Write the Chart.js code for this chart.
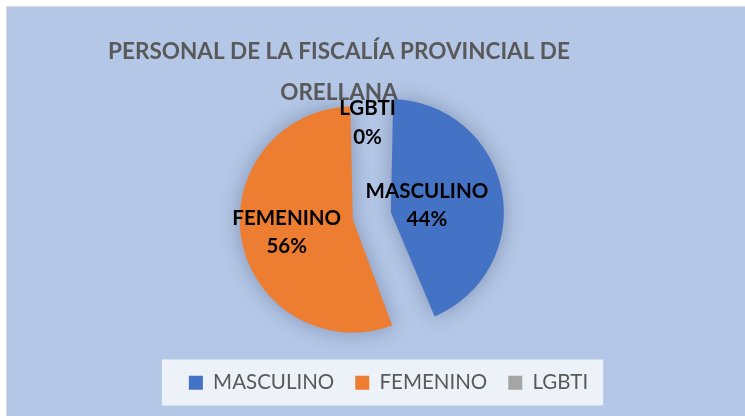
<!DOCTYPE html>
<html>
<head>
<meta charset="utf-8">
<script src="https://cdn.jsdelivr.net/npm/chart.js@4.4.1/dist/chart.umd.min.js"></script>
<style>
  html, body { margin: 0; padding: 0; background: #fff; overflow: hidden; }
  #wrap {
    position: absolute; left: 6px; top: 6px;
    width: 738px; height: 409px;
    background: #b4c7e7;
    border-top: 1px solid #d9d9d9;
    border-left: 1px solid #d9d9d9;
  }
  canvas { display: block; }
</style>
</head>
<body>
<div id="wrap"><canvas id="chart"></canvas></div>
<script>
const titleLines = ['PERSONAL DE LA FISCALÍA PROVINCIAL DE', 'ORELLANA']
const categories = ['MASCULINO', 'FEMENINO', 'LGBTI']
const values = [44, 56, 0]
const colors = ['#4472C4', '#ED7D31', '#A5A5A5']

const total = values.reduce((a, b) => a + b, 0)

// title drawn by hand so it can sit left of the pie centre like the original
const titleText = {
    id: 'titleText',
    beforeDatasetsDraw(chart, args, opts) {
        const c = chart.ctx
        c.save()
        c.font = 'bold 22.5px Lato'
        c.fillStyle = '#595959'
        c.textAlign = 'center'
        c.textBaseline = 'alphabetic'
        titleLines.forEach((t, i) => c.fillText(t, opts.x, opts.y + i * opts.lineGap))
        c.restore()
    }
}

// white panel behind the legend, legend nudged right
const legendPanel = {
    id: 'legendPanel',
    afterLayout(chart, args, opts) {
        const lg = chart.legend
        lg.left += opts.shift
        lg.right += opts.shift
    },
    beforeDraw(chart, args, opts) {
        const lg = chart.legend
        const pad = lg.options.labels.padding
        const contentW = lg.lineWidths[0] - pad
        const x0 = (lg.left + lg.right - contentW) / 2
        const cy = lg.top + pad + 10
        const c = chart.ctx
        c.save()
        c.fillStyle = '#edf1f8'
        c.fillRect(x0 - 27, cy - 23, contentW + 42, 46)
        c.restore()
    }
}

const pieShadow = {
    id: 'pieShadow',
    beforeDatasetsDraw(chart) {
        const c = chart.ctx
        c.save()
        c.shadowColor = 'rgba(40,50,80,0.35)'
        c.shadowBlur = 20
    },
    afterDatasetsDraw(chart) {
        chart.ctx.restore()
    }
}

const sliceLabels = {
    id: 'sliceLabels',
    afterDatasetsDraw(chart, args, opts) {
        const c = chart.ctx
        const meta = chart.getDatasetMeta(0)
        c.save()
        c.font = 'bold 20.5px Lato'
        c.fillStyle = '#000'
        c.textAlign = 'center'
        c.textBaseline = 'middle'
        meta.data.forEach((arc, i) => {
            const p = arc.getProps(['x', 'y', 'startAngle', 'endAngle', 'outerRadius'])
            const mid = (p.startAngle + p.endAngle) / 2
            const d = p.outerRadius * opts.dist[i]
            const x = p.x + Math.cos(mid) * d
            const y = p.y + Math.sin(mid) * d
            const pct = Math.round(values[i] / total * 100) + '%'
            c.fillText(categories[i], x, y - opts.lineGap / 2)
            c.fillText(pct, x, y + opts.lineGap / 2)
        })
        c.restore()
    }
}

new Chart(document.getElementById('chart'), {
    type: 'pie',
    data: {
        labels: categories,
        datasets: [{
            data: values,
            backgroundColor: colors,
            borderWidth: 0,
            offset: [95, 60, 0]
        }]
    },
    options: {
        responsive: true,
        maintainAspectRatio: false,
        animation: false,
        radius: 98,
        layout: { padding: { top: 75, right: 17, bottom: 13, left: 0 } },
        plugins: {
            title: { display: false },
            tooltip: { enabled: false },
            legend: {
                position: 'bottom',
                labels: {
                    boxWidth: 14,
                    boxHeight: 14,
                    padding: 21,
                    color: '#595959',
                    font: { family: 'Lato', size: 20.5 }
                }
            },
            titleText: { x: 332, y: 52.3, lineGap: 40.7 },
            legendPanel: { shift: 21 },
            sliceLabels: { dist: [0.617, 0.839, 0.96], lineGap: 28.5 }
        }
    },
    plugins: [titleText, legendPanel, pieShadow, sliceLabels]
})
</script>
</body>
</html>
